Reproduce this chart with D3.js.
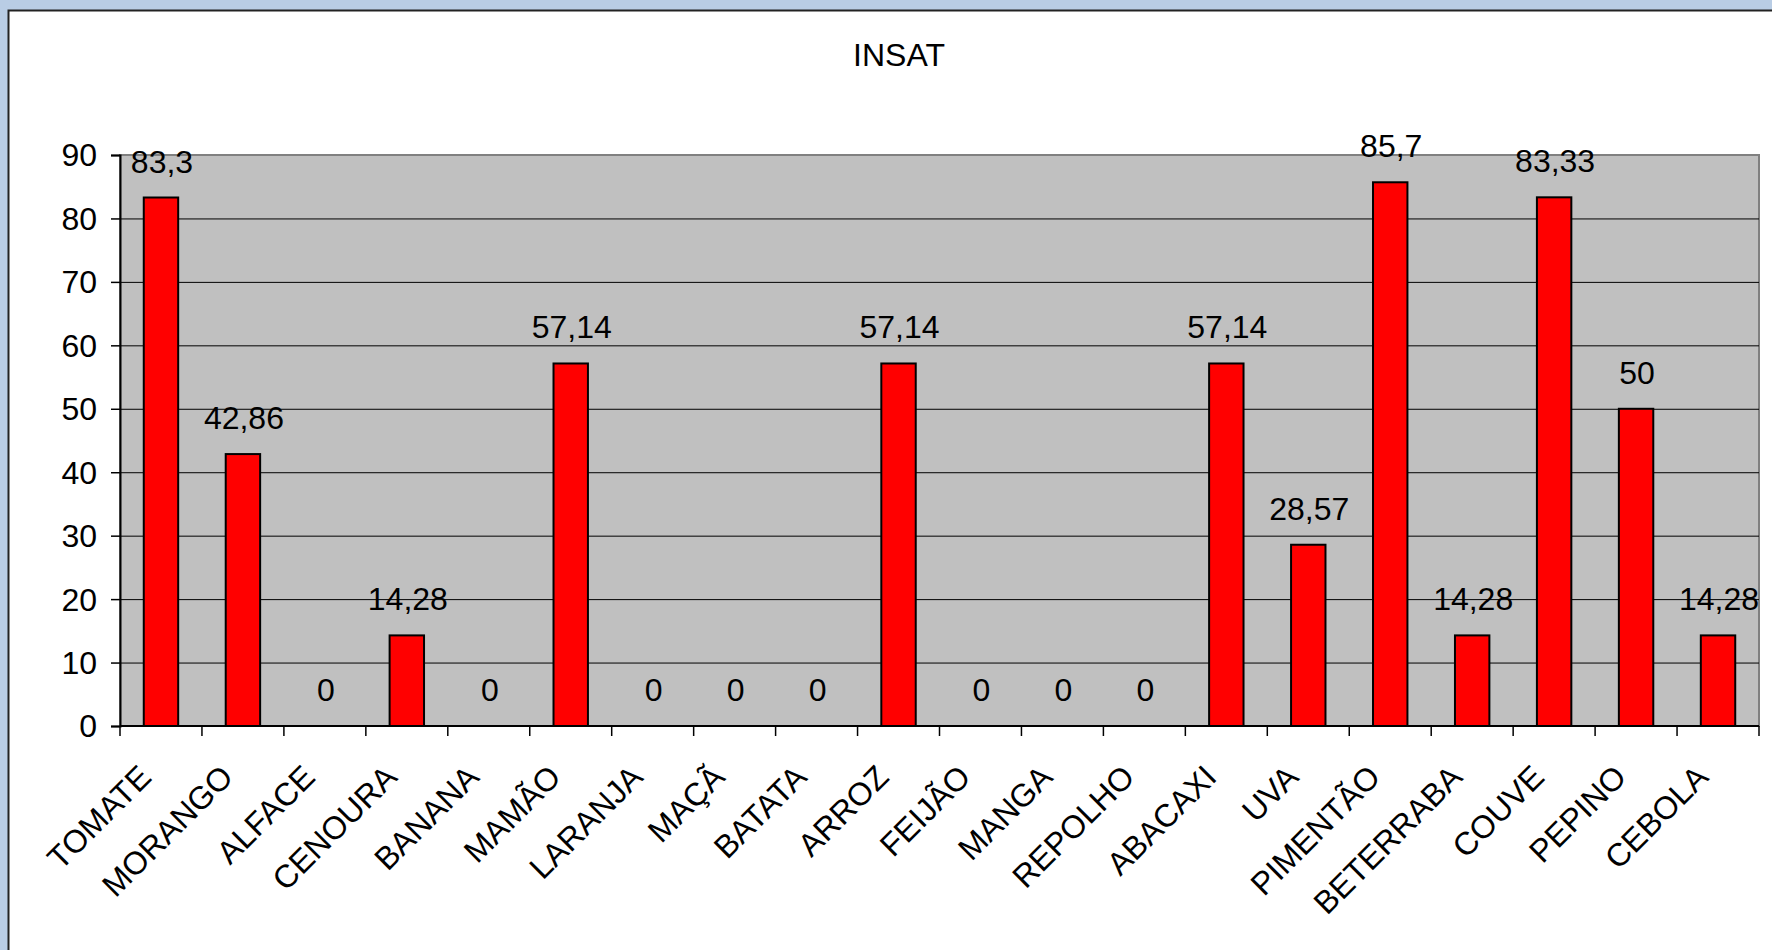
<!DOCTYPE html>
<html>
<head>
<meta charset="utf-8">
<script src="https://d3js.org/d3.v7.min.js"></script>
<style>
  html, body { margin: 0; padding: 0; background: #b9cde5; }
  svg { display: block; font-family: "Liberation Sans", Arial, sans-serif; }
</style>
</head>
<body>
<div id="chart"></div>
<script>
var categories = ['TOMATE', 'MORANGO', 'ALFACE', 'CENOURA', 'BANANA', 'MAMÃO', 'LARANJA', 'MAÇÃ', 'BATATA', 'ARROZ',
  'FEIJÃO', 'MANGA', 'REPOLHO', 'ABACAXI', 'UVA', 'PIMENTÃO', 'BETERRABA', 'COUVE', 'PEPINO', 'CEBOLA'];
var values = [83.3, 42.86, 0, 14.28, 0, 57.14, 0, 0, 0, 57.14, 0, 0, 0, 57.14, 28.57, 85.7, 14.28, 83.33, 50, 14.28];
var yTicks = [0, 10, 20, 30, 40, 50, 60, 70, 80, 90];
var title = 'INSAT';

var W = 1772, H = 950;
var plot = { left: 120, top: 155, right: 1759, bottom: 726 };
var fs = 32;

var svg = d3.select('#chart').append('svg')
  .attr('width', W)
  .attr('height', H);

// white chart panel with dark border
svg.append('rect')
  .attr('x', 8.5).attr('y', 10.5)
  .attr('width', 1800).attr('height', 1000)
  .attr('fill', '#fff')
  .attr('stroke', '#222')
  .attr('stroke-width', 2);

svg.append('text')
  .attr('x', 899).attr('y', 66)
  .attr('text-anchor', 'middle')
  .attr('font-size', fs)
  .text(title);

var x = d3.scaleBand()
  .domain(categories)
  .range([plot.left, plot.right])
  .padding(0);

var y = d3.scaleLinear()
  .domain([0, 90])
  .range([plot.bottom, plot.top]);

// plot area
svg.append('rect')
  .attr('x', plot.left).attr('y', plot.top)
  .attr('width', plot.right - plot.left)
  .attr('height', plot.bottom - plot.top)
  .attr('fill', '#c0c0c0')
  .attr('stroke', '#808080')
  .attr('stroke-width', 2);

// gridlines
svg.append('g')
  .selectAll('line')
  .data(yTicks.filter(function(t) { return t > 0 && t < 90; }))
  .join('line')
  .attr('x1', plot.left).attr('x2', plot.right)
  .attr('y1', function(d) { return y(d) + 0.5; })
  .attr('y2', function(d) { return y(d) + 0.5; })
  .attr('stroke', '#000')
  .attr('stroke-width', 1);

// bars
var barW = x.bandwidth() * 0.42;
svg.append('g')
  .selectAll('rect')
  .data(values)
  .join('rect')
  .attr('x', function(d, i) { return x(categories[i]) + x.bandwidth() / 2 - barW / 2; })
  .attr('y', function(d) { return y(d); })
  .attr('width', barW)
  .attr('height', function(d) { return y(0) - y(d); })
  .attr('fill', '#ff0000')
  .attr('stroke', '#000')
  .attr('stroke-width', 2);

// value labels
svg.append('g')
  .selectAll('text')
  .data(values)
  .join('text')
  .attr('x', function(d, i) { return x(categories[i]) + x.bandwidth() / 2 + 1; })
  .attr('y', function(d) { return y(d) - 25; })
  .attr('text-anchor', 'middle')
  .attr('font-size', fs)
  .text(function(d) { return String(d).replace('.', ','); });

// y axis
var yAxis = svg.append('g')
  .attr('transform', 'translate(' + plot.left + ',0)')
  .call(d3.axisLeft(y).tickValues(yTicks).tickSize(9).tickPadding(14));
yAxis.select('.domain').attr('stroke', '#000').attr('stroke-width', 2);
yAxis.selectAll('.tick line').attr('stroke', '#000').attr('stroke-width', 1.5);
yAxis.selectAll('.tick text')
  .attr('font-size', fs)
  .attr('font-family', '"Liberation Sans", Arial, sans-serif')
  .attr('fill', '#000')
  .attr('dy', '0.34em');

// x axis: ticks at category boundaries
var xAxis = svg.append('g');
xAxis.append('line')
  .attr('x1', plot.left).attr('x2', plot.right)
  .attr('y1', plot.bottom).attr('y2', plot.bottom)
  .attr('stroke', '#000')
  .attr('stroke-width', 2);
var bounds = categories.map(function(c) { return x(c); }).concat([plot.right]);
xAxis.selectAll('line.tk')
  .data(bounds)
  .join('line')
  .attr('class', 'tk')
  .attr('x1', function(d) { return d; })
  .attr('x2', function(d) { return d; })
  .attr('y1', plot.bottom)
  .attr('y2', plot.bottom + 10)
  .attr('stroke', '#000')
  .attr('stroke-width', 1.5);
xAxis.selectAll('text')
  .data(categories)
  .join('text')
  .attr('transform', function(d) {
    return 'translate(' + (x(d) + x.bandwidth() / 2 - 8) + ',' + (plot.bottom + 53) + ') rotate(-45)';
  })
  .attr('text-anchor', 'end')
  .attr('font-size', fs)
  .text(function(d) { return d; });
</script>
</body>
</html>
